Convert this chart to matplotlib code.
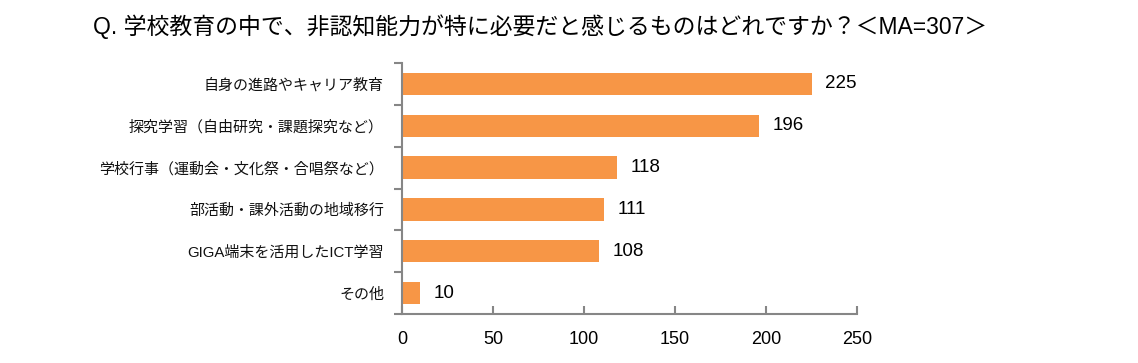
import matplotlib
matplotlib.use("Agg")
import matplotlib.pyplot as plt

plt.rcParams['font.family'] = ['Liberation Sans', 'Noto Sans CJK JP', 'DejaVu Sans']

title = "Q. 学校教育の中で、非認知能力が特に必要だと感じるものはどれですか？＜MA=307＞"
categories = ["自身の進路やキャリア教育",
              "探究学習（自由研究・課題探究など）",
              "学校行事（運動会・文化祭・合唱祭など）",
              "部活動・課外活動の地域移行",
              "GIGA端末を活用したICT学習",
              "その他"]
values = [225, 196, 118, 111, 108, 10]
xticks = [0, 50, 100, 150, 200, 250]

W, H = 1138, 363
fig = plt.figure(figsize=(W / 100, H / 100), dpi=100)
ax = fig.add_axes([402 / W, 1 - 314 / H, (857 - 402) / W, (314 - 63) / H])

bar_color = "#F79646"
y = list(range(len(categories)))
ax.barh(y, values, height=0.53, color=bar_color, zorder=2)
ax.set_ylim(len(categories) - 0.5, -0.5)
ax.set_xlim(0, 250)
ax.set_xticks(xticks)
ax.set_xticklabels([str(t) for t in xticks], fontsize=13)

ax.set_yticks(y)
ax.set_yticklabels(categories, fontsize=10.8, color='#111111')
ax.tick_params(axis='y', length=0, pad=13)
# minor ticks at category boundaries
ax.set_yticks([i - 0.5 for i in range(len(categories) + 1)], minor=True)
ax.tick_params(axis='y', which='minor', length=6, color='#868686', width=1.5, direction='out')
ax.tick_params(axis='x', length=6, color='#868686', width=1.5, direction='in', pad=12)

for s in ['top', 'right']:
    ax.spines[s].set_visible(False)
for s in ['left', 'bottom']:
    ax.spines[s].set_color('#868686')
    ax.spines[s].set_linewidth(1.5)

for yi, v in zip(y, values):
    ax.text(v + 7.5, yi, str(v), va='center', ha='left', fontsize=13.5)

fig.text(93 / W, 1 - 27 / H, title, fontsize=16.5, va='center', ha='left',
         family=['Liberation Sans', 'Noto Sans CJK JP'])

fig.savefig("out.png", dpi=100, facecolor='white')
